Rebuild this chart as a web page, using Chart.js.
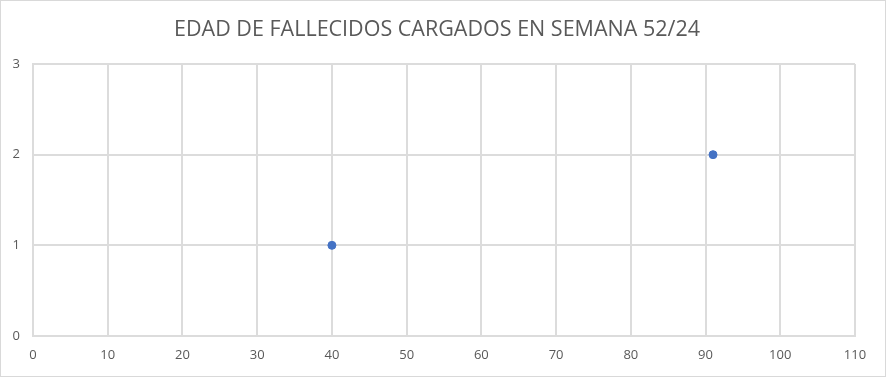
<!DOCTYPE html>
<html>
<head>
<meta charset="utf-8">
<script src="https://cdn.jsdelivr.net/npm/chart.js@4"></script>
<style>
  html, body { margin: 0; padding: 0; background: #fff; }
  #wrap { width: 886px; height: 377px; box-sizing: border-box; border: 1px solid #d9d9d9; background: #fff; }
  #wrap canvas { display: block; }
</style>
</head>
<body>
<div id="wrap"><canvas id="c" width="884" height="375"></canvas></div>
<script>
// data
var chartTitle = 'EDAD DE FALLECIDOS CARGADOS EN SEMANA 52/24';
var edades = [40, 91];      // x: age
var cantidad = [1, 2];      // y: count
var xMin = 0, xMax = 110, xStep = 10;
var yMin = 0, yMax = 3, yStep = 1;

var puntos = edades.map(function (e, i) { return { x: e, y: cantidad[i] }; });

var gridColor = '#dcdcdc';
var textColor = '#595959';
var fontFamily = "'Open Sans', 'Liberation Sans', sans-serif";

// the built-in title centres on the padded box, the original sits a bit further right
var titlePlugin = {
    id: 'tituloExcel',
    afterDraw: function (chart) {
        var c = chart.ctx;
        c.save();
        c.font = '21.5px ' + fontFamily;
        c.fillStyle = textColor;
        c.textAlign = 'center';
        c.textBaseline = 'middle';
        c.fillText(chartTitle, 436, 29);
        c.restore();
    }
};

var ctx = document.getElementById('c').getContext('2d');
new Chart(ctx, {
    type: 'scatter',
    data: {
        datasets: [{
            label: 'Edad',
            data: puntos,
            backgroundColor: '#4472c4',
            borderColor: '#4472c4',
            pointRadius: 4,
            pointHoverRadius: 4
        }]
    },
    options: {
        responsive: false,
        animation: false,
        layout: { padding: { left: 0, right: 30, top: 63, bottom: 0 } },
        plugins: {
            legend: { display: false },
            tooltip: { enabled: false },
            title: { display: false }
        },
        scales: {
            x: {
                type: 'linear',
                min: xMin,
                max: xMax,
                afterFit: function (s) { s.height = 40; },
                ticks: { stepSize: xStep, color: textColor, padding: 11, font: { family: fontFamily, size: 13 } },
                grid: { color: gridColor, lineWidth: 2, drawTicks: false },
                border: { color: gridColor, width: 2 }
            },
            y: {
                min: yMin,
                max: yMax,
                afterFit: function (s) { s.width = 32; },
                ticks: { stepSize: yStep, color: textColor, padding: 13, font: { family: fontFamily, size: 13 } },
                grid: { color: gridColor, lineWidth: 2, drawTicks: false },
                border: { color: gridColor, width: 2 }
            }
        }
    },
    plugins: [titlePlugin]
});
</script>
</body>
</html>
